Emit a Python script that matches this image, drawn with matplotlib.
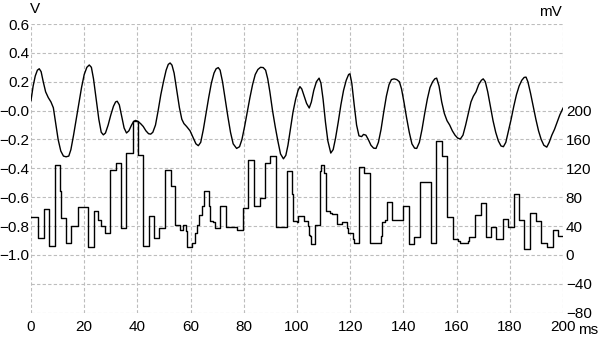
import numpy as np
import matplotlib
matplotlib.use("Agg")
import matplotlib.pyplot as plt

plt.rcParams['font.family'] = ['Liberation Sans', 'DejaVu Sans']

# upper trace, volts
t_v = [0, 0.8, 1.6, 2.4, 3.1, 3.8, 4.6, 5.5, 6.5, 7.5, 8.4, 9.2, 10.2, 11.2, 12.2, 13.2, 14.2,
       15, 16, 17, 18, 19, 20, 21, 21.9, 22.7, 23.5, 24.5, 25.5, 26.4, 27.2, 28, 29, 30, 31,
       31.8, 32.4, 33.2, 34, 35, 35.9, 36.8, 37.8, 38.6, 39.3, 40.2, 41.2, 42.2, 43.2, 44.2,
       45, 45.8, 46.8, 47.8, 48.8, 49.8, 50.8, 51.6, 52.3, 53, 53.8, 54.8, 55.8, 56.7, 57.5,
       58.5, 59.8, 61, 62, 62.9, 63.8, 64.8, 65.8, 66.8, 67.8, 68.8, 69.6, 70.4, 71.1, 72, 73,
       74, 75, 76, 77.3, 78.4, 79.3, 80.3, 81.3, 82.3, 83.3, 84.3, 85.3, 86.3, 87.3, 88.2, 89,
       89.8, 90.8, 91.8, 92.8, 93.8, 94.9, 95.8, 96.6, 97.5, 98.5, 99.5, 100.4, 101.1, 101.8,
       102.7, 103.6, 104.6, 105.4, 106.3, 107.3, 108.3, 109, 109.8, 110.7, 111.6, 112.7, 113.6,
       114.5, 115.5, 116.5, 117.5, 118.5, 119.4, 119.9, 120.6, 121.5, 122.4, 123.3, 124.3, 125,
       125.9, 126.8, 127.8, 128.8, 129.7, 130.6, 131.6, 132.6, 133.6, 134.6, 135.5, 136.5,
       137.5, 138.5, 139.3, 140.2, 141.2, 142.2, 143.2, 144.2, 145, 146, 147, 148, 149, 150,
       151, 151.8, 152.5, 153.4, 154.4, 155.4, 156.4, 157.4, 158.4, 159.4, 160.4, 161.4, 162.4,
       163.4, 164.4, 165.4, 166.3, 167.3, 168.3, 169.3, 170, 170.8, 171.7, 172.7, 173.7, 174.7,
       175.7, 176.7, 177.6, 178.5, 179.5, 180.5, 181.5, 182.5, 183.5, 184.5, 185.4, 186.1,
       186.8, 187.8, 188.8, 189.8, 190.8, 191.8, 192.8, 193.9, 194.8, 195.8, 196.8, 197.8,
       198.8, 200]
volts = [0.07, 0.17, 0.24, 0.28, 0.29, 0.27, 0.2, 0.13, 0.09, 0.06, 0.02, -0.08, -0.2, -0.28,
         -0.315, -0.32, -0.315, -0.27, -0.17, -0.06, 0.05, 0.16, 0.25, 0.3, 0.316, 0.3, 0.22,
         0.08, -0.06, -0.15, -0.168, -0.155, -0.1, -0.03, 0.03, 0.06, 0.065, 0.04, -0.03, -0.12,
         -0.155, -0.14, -0.1, -0.075, -0.068, -0.075, -0.09, -0.11, -0.14, -0.16, -0.163, -0.15,
         -0.1, 0.0, 0.11, 0.2, 0.28, 0.32, 0.33, 0.315, 0.26, 0.14, 0.02, -0.06, -0.09, -0.11,
         -0.14, -0.19, -0.23, -0.243, -0.22, -0.13, -0.02, 0.09, 0.19, 0.26, 0.29, 0.298, 0.28,
         0.2, 0.08, -0.04, -0.15, -0.23, -0.262, -0.25, -0.2, -0.11, -0.01, 0.09, 0.18, 0.25,
         0.285, 0.3, 0.298, 0.28, 0.22, 0.13, 0.0, -0.11, -0.21, -0.3, -0.334, -0.31, -0.24,
         -0.13, -0.01, 0.08, 0.14, 0.166, 0.15, 0.1, 0.05, 0.018, 0.06, 0.14, 0.2, 0.225, 0.19,
         0.08, -0.08, -0.21, -0.294, -0.27, -0.19, -0.08, 0.04, 0.14, 0.21, 0.25, 0.255, 0.19,
         0.04, -0.1, -0.175, -0.18, -0.165, -0.17, -0.2, -0.24, -0.26, -0.262, -0.22, -0.13,
         -0.01, 0.1, 0.18, 0.215, 0.22, 0.215, 0.2, 0.15, 0.06, -0.05, -0.15, -0.23, -0.26,
         -0.262, -0.22, -0.13, -0.02, 0.08, 0.16, 0.2, 0.22, 0.225, 0.17, 0.06, -0.02, -0.07,
         -0.1, -0.14, -0.17, -0.19, -0.197, -0.17, -0.1, -0.02, 0.06, 0.1, 0.13, 0.18, 0.21,
         0.22, 0.2, 0.13, 0.03, -0.07, -0.15, -0.21, -0.245, -0.25, -0.22, -0.14, -0.06, 0.03,
         0.11, 0.17, 0.21, 0.23, 0.232, 0.2, 0.12, 0.03, -0.06, -0.14, -0.2, -0.24, -0.253,
         -0.22, -0.17, -0.13, -0.08, -0.03, 0.017]

# lower trace, millivolts, held until next step
t_mv = [0, 2.5, 5.0, 6.8, 9.1, 10.9, 11.3, 13.2, 15.0, 17.5, 21.3, 23.5, 25.3, 26.2, 27.8,
        29.8, 31.9, 33.8, 35.8, 38.2, 40.1, 42.0, 44.3, 46.3, 48.2, 50.4, 52.5, 54.3, 56.0,
        57.0, 58.2, 58.8, 60.5, 61.5, 62.3, 63.3, 64.2, 65.2, 66.8, 67.3, 68.6, 69.2, 71.2,
        73.3, 77.5, 79.7, 81.5, 83.8, 86.0, 88.1, 90.0, 92.1, 96.2, 98.0, 98.4, 100.0, 100.5,
        102.8, 104.0, 104.5, 105.0, 105.3, 106.8, 108.7, 109.1, 110.2, 110.8, 112.5, 113.2,
        114.9, 117.0, 118.9, 119.3, 120.9, 121.4, 123.3, 125.1, 127.4, 131.5, 132.1, 133.1,
        134.0, 135.8, 140.0, 142.1, 144.1, 146.3, 150.5, 152.4, 154.5, 156.3, 158.6, 160.6,
        161.2, 164.2, 164.8, 167.0, 169.0, 171.1, 173.0, 174.9, 177.3, 179.2, 181.6, 183.5,
        185.5, 187.7, 190.0, 191.6, 194.0, 196.2, 198.2, 200]
millivolts = [52, 24, 63, 12, 124, 89, 51, 17, 40, 67, 11, 61, 49, 40, 31, 118, 128, 38, 141,
              185, 139, 12, 54, 23, 37, 118, 95, 42, 35, 42, 33, 11, 17, 31, 42, 56, 68, 88,
              68, 47, 45, 38, 68, 39, 34, 65, 132, 68, 79, 128, 137, 39, 117, 84, 47, 45, 54,
              47, 40, 28, 26, 15, 42, 116, 124, 114, 61, 58, 57, 43, 45, 38, 30, 22, 17, 122,
              113, 16, 26, 45, 49, 73, 49, 68, 15, 25, 101, 16, 158, 137, 52, 22, 19, 16, 19,
              25, 56, 72, 25, 39, 22, 50, 39, 84, 48, 8, 58, 47, 16, 11, 35, 26, 26]

x_ticks = np.arange(0, 201, 20)
v_ticks = np.round(np.arange(-1.4, 0.61, 0.2), 1)
mv_ticks = np.arange(-80, 201, 40)

fig = plt.figure(figsize=(6, 3.45), dpi=100)
ax = fig.add_axes([31/600, 1 - 312.7/345, 532/600, 288.7/345])
ax2 = ax.twinx()

ax.plot(t_v, volts, color='black', lw=1.0)
ax2.step(t_mv, millivolts, where='post', color='black', lw=1.0)

ax.set_xlim(0, 200)
ax.set_ylim(-1.4, 0.6)
ax2.set_ylim(-80, 320)

ax.set_xticks(x_ticks)
ax.set_yticks(v_ticks)
ax.set_yticklabels(['' if v < -1.05 else f'{v:.1f}'.replace('-', '\u2212') for v in v_ticks])
ax2.set_yticks(mv_ticks)
ax2.set_yticklabels([str(m).replace('-', '\u2212') for m in mv_ticks])

ax.grid(True, color='#bdbdbd', linestyle=(0, (3, 2)), lw=0.8)
for a in (ax, ax2):
    for s in a.spines.values():
        s.set_visible(False)
    a.tick_params(length=0, labelsize=11)
ax.tick_params(axis='y', pad=1)
ax.tick_params(axis='x', pad=5)
ax2.tick_params(axis='y', pad=2)

fig.text(35/600, 1 - 9/345, 'V', ha='center', va='center', fontsize=11)
fig.text(562/600, 1 - 12/345, 'mV', ha='right', va='center', fontsize=11)
fig.text(588/600, 1 - 330/345, 'ms', ha='center', va='center', fontsize=11)

fig.savefig('out.png', dpi=100)
